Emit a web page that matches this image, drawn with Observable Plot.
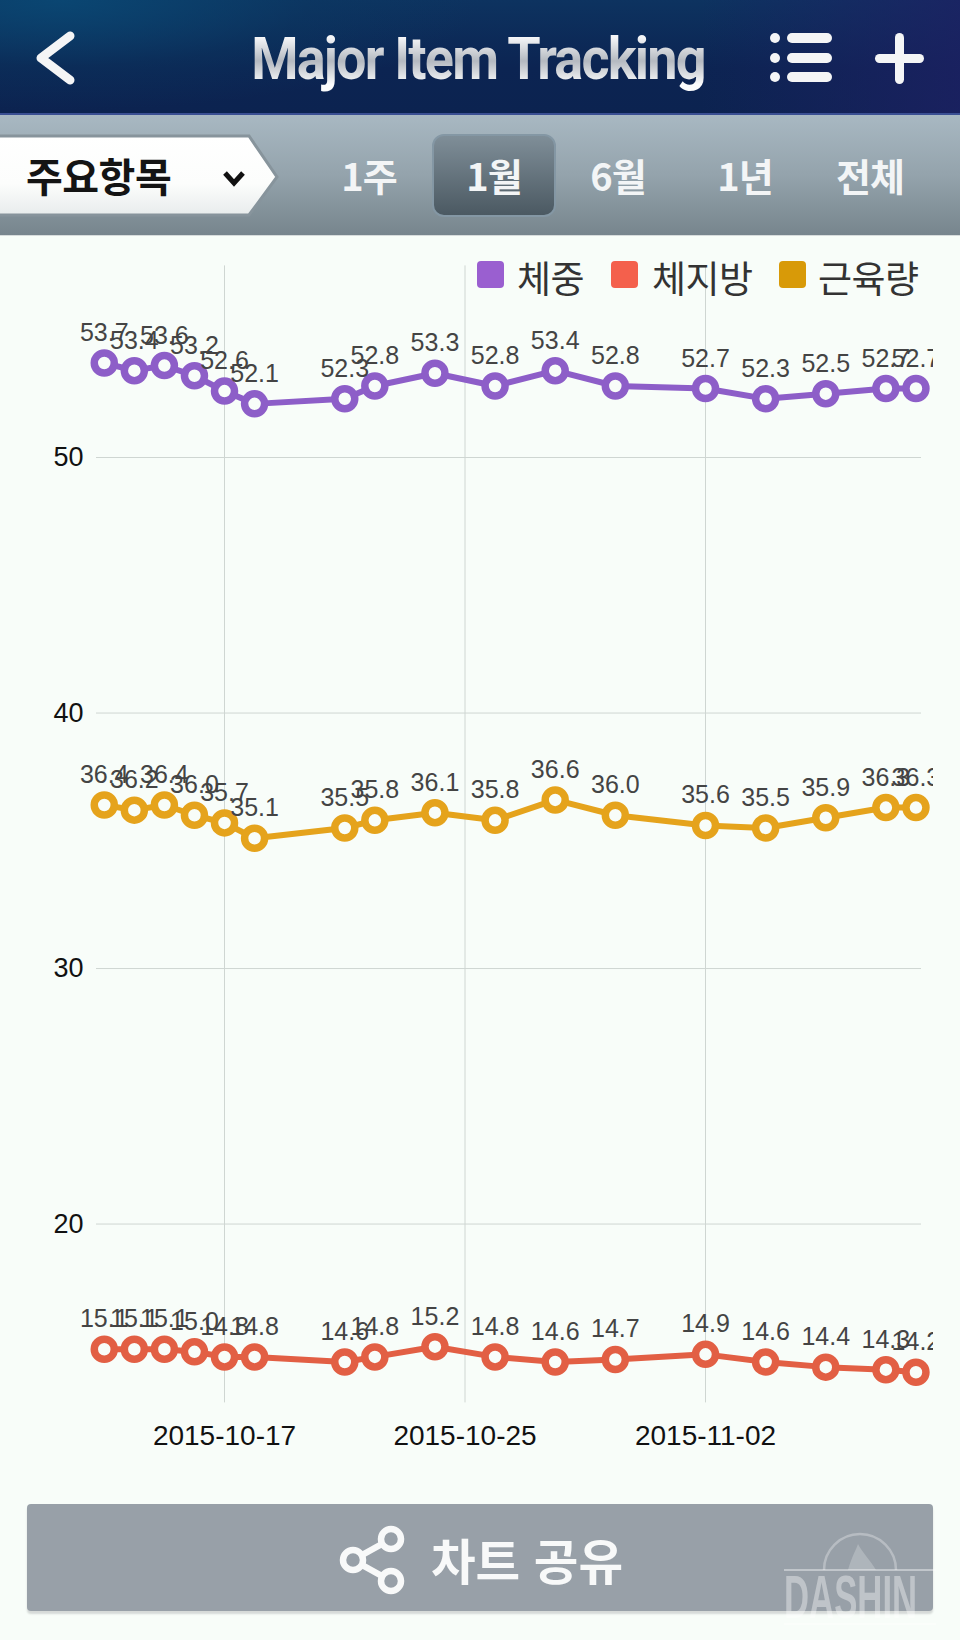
<!DOCTYPE html>
<html lang="ko">
<head>
<meta charset="utf-8">
<title>Major Item Tracking</title>
<script src="https://cdn.jsdelivr.net/npm/d3@7"></script>
<script src="https://cdn.jsdelivr.net/npm/@observablehq/plot@0.6"></script>
<style>
  html,body{margin:0;padding:0;background:#f8fdf9;}
  #page{position:relative;width:960px;height:1640px;overflow:hidden;background:#f8fdf9;font-family:"Noto Sans CJK KR","Noto Sans",sans-serif;}
  .abs{position:absolute;}
  #head{left:0;top:0;width:960px;height:113px;background:radial-gradient(ellipse 420px 110px at 60px 0px,#0a4672 0%,rgba(10,60,100,.35) 60%,rgba(10,40,80,0) 100%),linear-gradient(180deg,#0d3360 0%,#0c2452 60%,#0c2350 100%);border-bottom:2px solid #3a4f93;}
  #headr{left:700px;top:0;width:260px;height:113px;background:linear-gradient(90deg,rgba(30,32,100,0),rgba(30,32,100,.75));}
  #title{left:168px;top:19px;width:620px;height:84px;text-align:center;font:700 60px/80px Roboto,sans-serif;white-space:nowrap;letter-spacing:-2px;
    background:linear-gradient(180deg,#f5f6f8 22%,#b4b9c0 50%,#fbfcfd 78%);-webkit-background-clip:text;background-clip:text;color:transparent;transform:scaleX(.9);transform-origin:50% 50%;}
  #bar{left:0;top:115px;width:960px;height:121px;background:linear-gradient(180deg,#a8b8c2 0%,#94a3ac 50%,#77858d 100%);border-bottom:1px solid #d7dcdc;box-sizing:border-box;}
  .tab{top:148px;width:110px;text-align:center;font:700 38px/54px "Noto Sans CJK KR",sans-serif;color:#f3f5f6;letter-spacing:-1px;}
  #active{left:432px;top:134px;width:124px;height:83px;box-sizing:border-box;border-radius:12px;border:2px solid #8497a4;background:linear-gradient(180deg,#7f8e98,#4b5962);}
  #pick{left:26px;top:147px;font:700 40px/56px "Noto Sans CJK KR",sans-serif;color:#141414;letter-spacing:-.5px;}
  .sw{top:261px;width:27px;height:27px;border-radius:4px;}
  .lg{top:254px;font:400 37px/46px "Noto Sans CJK KR",sans-serif;color:#333;letter-spacing:-.5px;white-space:nowrap;}
  #chart{left:0;top:236px;}
  #chart svg{overflow:hidden;background:transparent;}
  #btn{left:27px;top:1504px;width:906px;height:107px;border-radius:4px;background:#98a0a8;box-shadow:0 3px 2px #d6dad8;}
  #btntxt{left:431px;top:1526px;font:700 48.5px/66px "Noto Sans CJK KR",sans-serif;color:#f8f9f9;white-space:nowrap;}
  #mark{left:784px;top:1569px;width:152px;height:56px;border-top:2px solid rgba(255,255,255,.4);border-bottom:2px solid rgba(255,255,255,.3);box-sizing:border-box;overflow:hidden;
    font:700 62px/52px "Liberation Sans",sans-serif;color:rgba(255,255,255,.38);white-space:nowrap;}
  #mark span{display:inline-block;transform:scaleX(.56);transform-origin:0 50%;}
</style>
</head>
<body>
<div id="page">
  <div class="abs" id="head"></div>
  <div class="abs" id="headr"></div>
  <div class="abs" id="title">Major Item Tracking</div>
  <svg class="abs" style="left:0;top:0" width="960" height="113">
    <polyline points="70,36 41,58 70,80" fill="none" stroke="#f4f5f6" stroke-width="9" stroke-linecap="round" stroke-linejoin="round"/>
    <g fill="#f4f5f6">
      <circle cx="775" cy="38" r="5"/><circle cx="775" cy="58" r="5"/><circle cx="775" cy="77" r="5"/>
      <rect x="787" y="33" width="45" height="10" rx="5"/><rect x="787" y="53" width="45" height="10" rx="5"/><rect x="787" y="72" width="45" height="10" rx="5"/>
      <rect x="875" y="54" width="49" height="9" rx="4.5"/><rect x="895" y="33" width="9" height="51" rx="4.5"/>
    </g>
  </svg>

  <div class="abs" id="bar"></div>
  <svg class="abs" style="left:0;top:115px" width="300" height="121">
    <defs><linearGradient id="pk" x1="0" y1="0" x2="0" y2="1"><stop offset="0" stop-color="#fff"/><stop offset=".6" stop-color="#fcfdfc"/><stop offset="1" stop-color="#e8ecec"/></linearGradient></defs>
    <polygon points="-4,21 249,21 277,62 249,100 -4,100" fill="url(#pk)" stroke="#87949c" stroke-width="3"/>
    <polyline points="225,58 234,68 243,58" fill="none" stroke="#111" stroke-width="5"/>
  </svg>
  <div class="abs" id="pick">주요항목</div>
  <div class="abs" id="active"></div>
  <div class="abs tab" style="left:314px">1주</div>
  <div class="abs tab" style="left:439px">1월</div>
  <div class="abs tab" style="left:563px">6월</div>
  <div class="abs tab" style="left:690px">1년</div>
  <div class="abs tab" style="left:815px">전체</div>

  <div class="abs" id="chart"></div>

  <div class="abs sw" style="left:477px;background:#9a5fd0"></div>
  <div class="abs lg" style="left:517px">체중</div>
  <div class="abs sw" style="left:611px;background:#f4604c"></div>
  <div class="abs lg" style="left:652px">체지방</div>
  <div class="abs sw" style="left:779px;background:#d89a08"></div>
  <div class="abs lg" style="left:818px">근육량</div>

  <div class="abs" id="btn"></div>
  <svg class="abs" style="left:336px;top:1522px" width="75" height="76">
    <g fill="none" stroke="#f8f9f9" stroke-width="6.5">
      <line x1="17" y1="38" x2="55" y2="17"/><line x1="17" y1="38" x2="55" y2="59"/>
      <circle cx="17" cy="38" r="10" fill="#98a0a8"/><circle cx="55" cy="17" r="10" fill="#98a0a8"/><circle cx="55" cy="59" r="10" fill="#98a0a8"/>
    </g>
  </svg>
  <div class="abs" id="btntxt">차트 공유</div>
  <svg class="abs" style="left:810px;top:1526px" width="100" height="45">
    <path d="M14,44 A36,36 0 0 1 86,44" fill="none" stroke="rgba(255,255,255,.3)" stroke-width="2.5"/>
    <path d="M38,44 C42,30 46,24 48,18 C52,26 60,34 66,44 Z" fill="rgba(255,255,255,.22)"/>
  </svg>
  <div class="abs" id="mark"><span>DASHIN</span></div>
</div>

<script>
const dates = ["2015-10-13","2015-10-14","2015-10-15","2015-10-16","2015-10-17","2015-10-18","2015-10-21","2015-10-22","2015-10-24","2015-10-26","2015-10-28","2015-10-30","2015-11-02","2015-11-04","2015-11-06","2015-11-08","2015-11-09"];
const weight = [53.7,53.4,53.6,53.2,52.6,52.1,52.3,52.8,53.3,52.8,53.4,52.8,52.7,52.3,52.5,52.7,52.7];
const muscle = [36.4,36.2,36.4,36.0,35.7,35.1,35.5,35.8,36.1,35.8,36.6,36.0,35.6,35.5,35.9,36.3,36.3];
const fat    = [15.1,15.1,15.1,15.0,14.8,14.8,14.6,14.8,15.2,14.8,14.6,14.7,14.9,14.6,14.4,14.3,14.2];
const yTicks = [20,30,40,50];
const xTickLabels = ["2015-10-17","2015-10-25","2015-11-02"];
const seriesColors = ["#8d5ec8","#e5a31c","#e25f44"];
const seriesValues = [weight,muscle,fat];

const bg = "#f8fdf9";
const xDate = s => new Date(s + "T00:00:00Z");
const rows = vals => vals.map((v,i) => ({date: xDate(dates[i]), value: v}));

const seriesMarks = seriesValues.flatMap((vals,i) => {
  const data = rows(vals);
  return [
    Plot.line(data,{x:"date",y:"value",stroke:seriesColors[i],strokeWidth:6}),
    Plot.dot(data,{x:"date",y:"value",r:10,stroke:seriesColors[i],strokeWidth:7.5,fill:bg}),
    Plot.text(data,{x:"date",y:"value",text:d=>d.value.toFixed(1),dy:-30,fontSize:25,fill:"#444",textAnchor:"middle"})
  ];
});

const svg = Plot.plot({
  width:933, height:1240,
  marginLeft:96, marginRight:12, marginTop:29.4, marginBottom:73.6,
  style:{fontFamily:"'Liberation Sans',Arial,sans-serif",background:"transparent"},
  x:{type:"utc",domain:[new Date("2015-10-12T17:48:00Z"),new Date("2015-11-09T04:26:00Z")]},
  y:{domain:[13,57.5]},
  marks:[
    Plot.ruleY(yTicks,{stroke:"#cfd6d2",strokeWidth:1}),
    Plot.ruleX(xTickLabels.map(xDate),{stroke:"#cfd6d2",strokeWidth:1}),
    Plot.axisY({ticks:yTicks,tickSize:0,tickPadding:13,fontSize:27,label:null,fill:"#111"}),
    Plot.axisX({ticks:xTickLabels.map(xDate),tickFormat:d3.utcFormat("%Y-%m-%d"),tickSize:0,tickPadding:22,fontSize:28,label:null,fill:"#111"}),
    ...seriesMarks
  ]
});
document.getElementById("chart").appendChild(svg);
</script>
</body>
</html>
